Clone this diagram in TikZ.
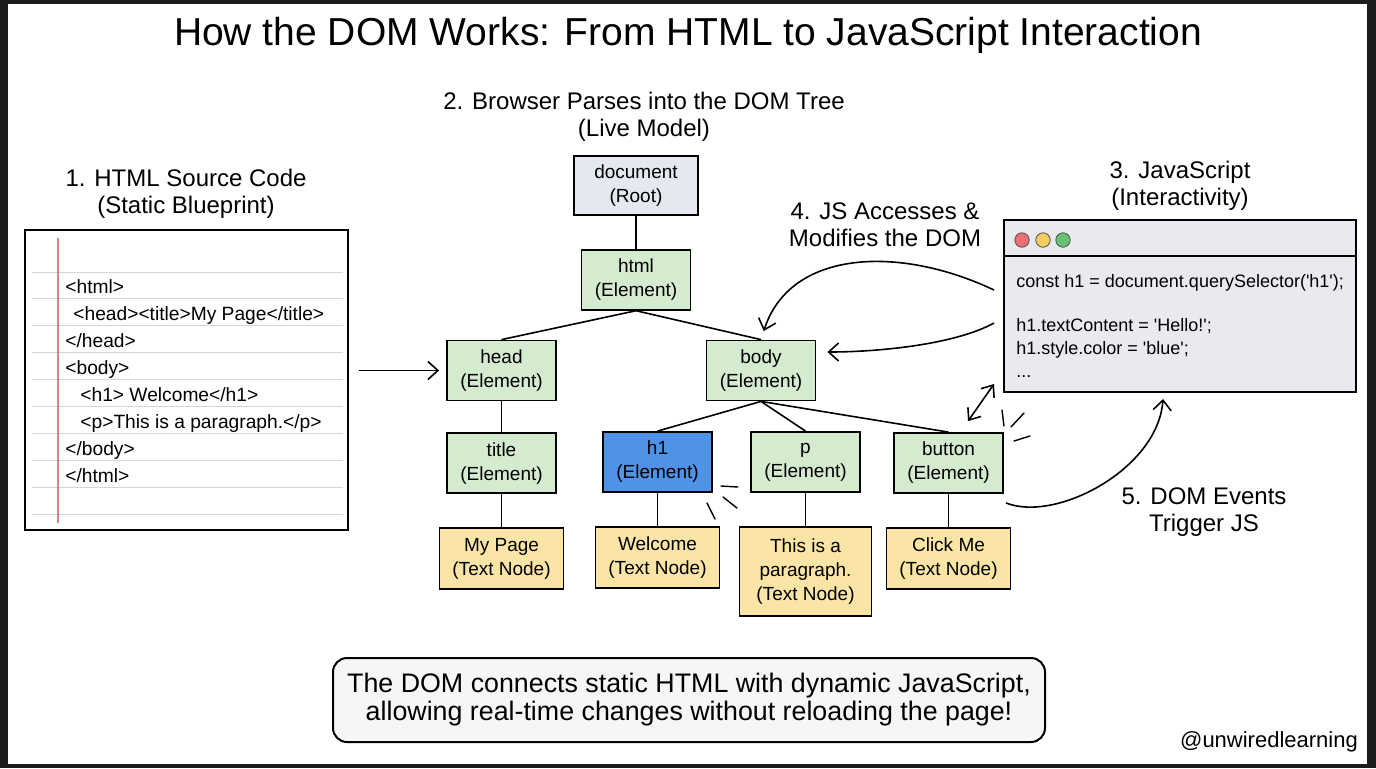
\documentclass[tikz,border=0pt]{standalone}
\usepackage{fontspec}
\setmainfont{Liberation Sans}
\usetikzlibrary{positioning,arrows.meta}

\definecolor{framedark}{RGB}{28,28,28}
\definecolor{elemgreen}{RGB}{213,235,207}
\definecolor{rootgray}{RGB}{229,232,239}
\definecolor{hblue}{RGB}{78,147,232}
\definecolor{textyellow}{RGB}{251,229,166}
\definecolor{jsgray}{RGB}{232,234,239}
\definecolor{ruledgray}{RGB}{208,214,220}
\definecolor{marginred}{RGB}{226,128,136}
\definecolor{dotred}{RGB}{236,112,120}
\definecolor{dotyellow}{RGB}{244,204,96}
\definecolor{dotgreen}{RGB}{104,192,116}
\definecolor{notegray}{RGB}{246,246,246}

\begin{document}
\begin{tikzpicture}[
x=0.5pt, y=-0.5pt,
node distance = 16.5pt and 20pt,
element/.style={rectangle, draw=black, line width=0.9pt, fill=elemgreen, minimum width=54.5pt, minimum height=30pt, inner sep=1pt, align=center, font=\fontsize{9.5}{12}\selectfont},
textnode/.style={element, fill=textyellow, minimum width=62pt, minimum height=30.5pt},
heading/.style={align=center, font=\fontsize{12}{13.5}\selectfont},
code/.style={align=left, inner sep=0pt, anchor=base west},
link/.style={line width=0.8pt},
flow/.style={-{Straight Barb[length=5pt,width=9pt]}, line width=0.8pt},
spark/.style={line width=0.7pt, line cap=round}]

\useasboundingbox (0,0) rectangle (1376,768);
\fill[framedark] (0,0) rectangle (1376,768);
\fill[white] (8,4) rectangle (1367,764);

\node[font=\fontsize{19.5}{22}\selectfont] (title) at (688,35) {How the DOM Works: From HTML to JavaScript Interaction};

\node[heading] (lblhtml) at (186,193.5) {1. HTML Source Code\\(Static Blueprint)};
\node[heading] (lbltree) at (644,116.5) {2. Browser Parses into the DOM Tree\\(Live Model)};
\node[heading] (lbljs) at (1180,186) {3. JavaScript\\(Interactivity)};
\node[heading] (lblaccess) at (885,225) {4. JS Accesses \&\\Modifies the DOM};
\node[heading] (lblevents) at (1204,512) {5. DOM Events\\Trigger JS};

\node[draw=black, line width=1pt, fill=white, minimum width=161.5pt, minimum height=150pt] (notepad) at (186.5,380) {};
\foreach \i in {0,...,9}
  \draw[ruledgray, line width=0.5pt] (32,272+26.9*\i) -- (343,272+26.9*\i);
\draw[marginred, line width=0.6pt] (58,238) -- (58,523);
\node[code, font=\fontsize{9.6}{13.5}\selectfont] (htmlcode) at (65,482) {<html>\\\hspace*{4pt}<head><title>My Page</title>\\</head>\\<body>\\\hspace*{7.5pt}<h1> Welcome</h1>\\\hspace*{7.5pt}<p>This is a paragraph.</p>\\</body>\\</html>};

\node[draw=black, line width=1pt, fill=jsgray, minimum width=176pt, minimum height=86pt] (jswin) at (1180,306) {};
\draw[line width=0.9pt] ([yshift=-18.5pt]jswin.north west) -- ([yshift=-18.5pt]jswin.north east);
\filldraw[fill=dotred, draw=black!70, line width=0.4pt] (1022,240) circle (3.6pt);
\filldraw[fill=dotyellow, draw=black!70, line width=0.4pt] (1043,240) circle (3.6pt);
\filldraw[fill=dotgreen, draw=black!70, line width=0.4pt] (1063,240) circle (3.6pt);
\node[code, font=\fontsize{9}{11.5}\selectfont] (jscode) at (1016,377) {const h1 = document.querySelector(\textquotesingle h1\textquotesingle);\\[10.5pt]h1.textContent = \textquotesingle Hello!\textquotesingle;\\h1.style.color = \textquotesingle blue\textquotesingle;\\...};

\node[element, fill=rootgray, minimum width=62pt, minimum height=29.5pt] (doc) at (636,185.5) {document\\(Root)};
\node[element, below=of doc] (html) {html\\(Element)};
\node[element] (head) at (501.5,370.5) {head\\(Element)};
\node[element] (body) at (761,370.5) {body\\(Element)};
\node[element, below=15.5pt of head] (title) {title\\(Element)};
\node[element, fill=hblue] (h1) at (657.5,462) {h1\\(Element)};
\node[element] (p) at (805.5,462) {p\\(Element)};
\node[element] (button) at (948.5,463) {button\\(Element)};
\node[textnode, below=of title] (tpage) {My Page\\(Text Node)};
\node[textnode, below=of h1] (twelcome) {Welcome\\(Text Node)};
\node[textnode, below=of p, minimum width=66pt, minimum height=44.5pt] (tpara) {This is a\\paragraph.\\(Text Node)};
\node[textnode, below=of button] (tclick) {Click Me\\(Text Node)};

\draw[link] (doc) -- (html);
\draw[link] (html.south) -- (head.north);
\draw[link] (html.south) -- (body.north);
\draw[link] (head) -- (title);
\draw[link] (body.south) -- (h1.north);
\draw[link] (body.south) -- (p.north);
\draw[link] (body.south) -- (button.north);
\draw[link] (title) -- (tpage);
\draw[link] (h1) -- (twelcome);
\draw[link] (p) -- (tpara);
\draw[link] (button) -- (tclick);

\draw[flow, shorten <=5pt, shorten >=3.5pt] (notepad.east |- head.west) -- (head.west);
\draw[flow, shorten >=4.5pt] ([shift={(-4.5pt,8pt)}]jswin.west) .. controls +(-95,-45) and +(29,-90) .. (body.north);
\draw[flow, shorten >=5.5pt] ([shift={(-4.5pt,-8.5pt)}]jswin.west) .. controls +(-40,22) and +(60,0) .. ([yshift=9.25pt]body.east);
\draw[flow] ([shift={(1pt,-4.5pt)}]button.south east) .. controls +(50,20) and +(-5,70) .. ([shift={(-8.5pt,-3pt)}]jswin.south);
\draw[{Straight Barb[length=5pt,width=8pt]}-{Straight Barb[length=5pt,width=8pt]}, line width=0.8pt] ([shift={(9.75pt,5.5pt)}]button.north) -- ([shift={(-4.5pt,4.5pt)}]jswin.south west);

\draw[spark] (1002,410) -- (1004,426);
\draw[spark] (1011,427) -- (1024,413);
\draw[spark] (1014,441) -- (1030,436);
\draw[spark] (721,486) -- (738,487);
\draw[spark] (723,497) -- (737,508);
\draw[spark] (707,503) -- (715,519);

\node[draw=black, line width=1pt, fill=notegray, rounded corners=7pt, minimum width=356pt, minimum height=42pt, align=center, font=\fontsize{13.4}{14}\selectfont] (summary) at (689,700) {The DOM connects static HTML with dynamic JavaScript,\\allowing real-time changes without reloading the page!};
\node[font=\fontsize{11}{13}\selectfont] (handle) at (1269,742) {@unwiredlearning};
\end{tikzpicture}
\end{document}
